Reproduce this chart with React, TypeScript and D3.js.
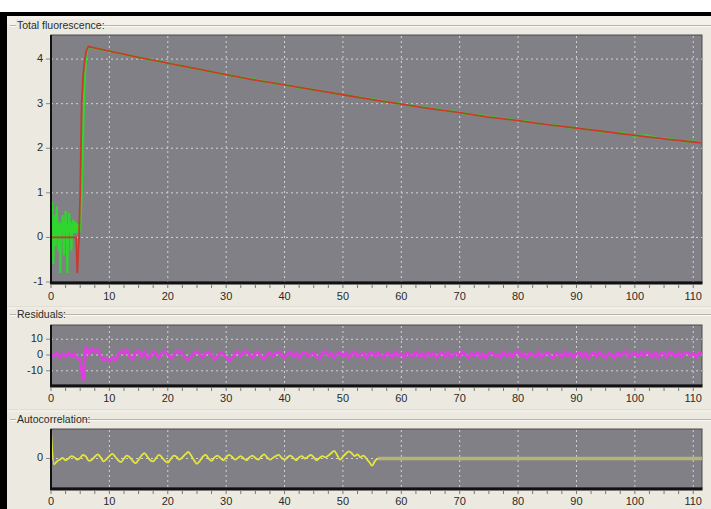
import React from "react";
import * as d3 from "d3";

const W = 711;
const H = 509;

// ---------- data ----------
const xTicks = [0, 10, 20, 30, 40, 50, 60, 70, 80, 90, 100, 110];
const fluoTicks = [-1, 0, 1, 2, 3, 4];
const residTicks = [-10, 0, 10];
const acfTicks = [0];

// measured signal (green): pre-flash noise, rise, decay
const greenX = [
  0, 0.1, 0.2, 0.3, 0.4, 0.5, 0.6, 0.7, 0.8, 0.9, 1.0, 1.1, 1.2, 1.3, 1.4, 1.5, 1.6, 1.7, 1.8, 1.9, 2.0, 2.1, 2.2, 2.3, 2.4,
  2.5, 2.6, 2.7, 2.8, 2.9, 3.0, 3.1, 3.2, 3.3, 3.4, 3.5, 3.6, 3.7, 3.8, 3.9, 4.0, 4.1, 4.2, 4.3, 4.4, 4.5, 4.6, 4.7, 4.8, 4.9,
  5.0, 5.2, 5.4, 5.6, 5.8, 6.0, 6.2, 6.4,
  8, 10, 12, 14, 16, 18, 20, 22, 24, 26, 28, 30, 32, 34, 36, 38, 40, 42, 44, 46, 48, 50, 52, 54, 56, 58, 60,
  62, 64, 66, 68, 70, 72, 74, 76, 78, 80, 82, 84, 86, 88, 90, 92, 94, 96, 98, 100, 102, 104, 106, 108, 110, 111.5,
];
const greenY = [
  0.3, 0.05, 0.8, 0.2, -0.6, 0.3, 0.1, 0.5, -0.2, 0.3, 0.7, 0.1, 0.25, -0.3, 0.2, 0.35, -0.8, 0.1, 0.3, 0.15, 0.5, 0.2, -0.4, 0.3, 0.1,
  0.6, 0.2, 0.3, -0.8, 0.25, 0.1, 0.55, 0.2, 0.35, 0.15, -0.3, 0.3, 0.2, 0.4, 0.1, 0.3, 0.2, 0.35, 0.1, 0.25, 0.15, 0.3, 0.2, 0.1, 0.15,
  0.2, 0.8, 1.8, 2.8, 3.6, 4.0, 4.2, 4.27,
  4.23, 4.18, 4.12, 4.07, 4.01, 3.96, 3.91, 3.86, 3.8, 3.75, 3.7, 3.65, 3.6, 3.56, 3.51, 3.46, 3.42, 3.37, 3.33, 3.29, 3.24, 3.2, 3.16, 3.12, 3.08, 3.03, 2.99,
  2.95, 2.92, 2.88, 2.84, 2.8, 2.76, 2.73, 2.69, 2.66, 2.62, 2.59, 2.55, 2.52, 2.48, 2.45, 2.42, 2.38, 2.35, 2.34, 2.27, 2.29, 2.22, 2.21, 2.16, 2.15, 2.12,
];

// fitted curve (red)
const fitX = [0, 4.3, 4.5, 4.8, 5.0, 5.25, 5.5, 5.8, 6.1, 6.4, 10, 15, 20, 25, 30, 35, 40, 45, 50, 55, 60, 65, 70, 75, 80, 85, 90, 95, 100, 105, 110, 111.5];
const fitY = [0, 0, -0.8, 0.0, 1.0, 3.0, 3.6, 4.0, 4.2, 4.28, 4.18, 4.04, 3.91, 3.78, 3.65, 3.53, 3.42, 3.31, 3.2, 3.09, 2.99, 2.89, 2.8, 2.7, 2.62, 2.53, 2.45, 2.37, 2.29, 2.21, 2.14, 2.12];

// residuals, sampled every 0.5 from 0 to 111.5
const residStep = 0.5;
const residuals = [
  0.8, -0.8, 1.2, -1.5, 0.5, -1.2, 1.5, -0.8, 0.6, -1.8,
  -3.0, -17.0, 5.5, 1.0, 4.0, 2.0, 3.5, -1.0, -3.2, -2.2,
  -4.0, -1.8, -3.6, 0.4, 2.6, 1.0, 3.2, -1.2, -2.6, 1.6,
  2.8, -0.8, 1.8, -2.0, -0.6, 2.2, 0.8, -1.8, 1.2, 2.6,
  0.4, -2.0, -0.4, 1.8, 2.8, 0.6, -1.6, -3.0, -0.8, 1.4,
  2.4, 0.2, -1.4, 1.2, 2.0, -0.6, -2.4, -1.0, 1.6, 0.4,
  -1.8, -3.6, -2.2, 0.8, 2.2, -0.4, 1.8, 2.6, 0.0, -1.6,
  1.0, 2.0, -1.2, -2.4, 0.4, 1.6, -0.8, 1.2, 2.2, -0.4,
  -1.8, 0.8, 2.0, -0.6, 1.4, -2.0, 0.6, 1.8, -1.0, 0.4,
  1.6, -1.4, -2.2, 1.0, 2.4, -0.2, 1.2, -1.6, 0.8, 1.8,
  -0.8, 1.6, -1.8, 0.6, 2.0, -1.2, 0.4, 1.8, -2.0, 1.0,
  1.4, -1.0, 1.8, -0.4, -1.6, 1.2, 0.6, -1.4, 2.2, -0.6,
  0.8, -1.8, 1.6, 0.2, -1.2, 2.0, -0.8, 1.0, -1.6, 1.6,
  -0.4, 1.2, -2.0, 0.6, 1.8, -1.0, 1.4, -1.6, 0.4, 1.6,
  -1.2, 2.2, 0.0, -1.6, 1.0, -0.6, 1.8, -1.4, 0.8, -1.8,
  1.2, 1.6, -0.8, 0.4, -1.6, 2.0, -0.4, 1.0, -1.2, 1.6,
  2.4, -0.6, 0.8, -1.8, 1.4, 0.2, -1.0, 1.8, -1.6, 0.6,
  1.6, -0.8, -2.0, 1.2, 0.4, -1.4, 2.2, -0.6, 1.0, -1.6,
  0.8, 1.8, -1.2, 1.6, -2.2, 0.6, 1.4, -1.0, 2.0, -0.4,
  -1.6, 1.0, 0.4, -1.8, 1.6, -0.8, 1.2, 2.4, -1.4, 0.2,
  1.8, -1.0, 1.6, -0.6, 2.2, 0.8, -1.2, 1.6, -1.8, 1.0,
  1.4, -1.6, 2.0, 0.4, -0.8, 1.6, -1.4, 1.2, 1.8, -0.6,
  1.0, -1.2, 1.6, 0.4,
];

// autocorrelation, sampled every 0.5 from 0 to 56, then flat
const acfStep = 0.5;
const acf = [
  1.0, -0.2, -0.1, -0.04, 0.02, -0.06, 0.0, 0.08, 0.04, -0.04,
  0.02, 0.12, 0.06, -0.08, -0.04, 0.06, 0.14, 0.04, -0.1, -0.02,
  0.08, 0.16, 0.06, -0.06, -0.12, 0.0, 0.1, 0.04, -0.08, -0.16,
  -0.04, 0.1, 0.18, 0.06, -0.06, -0.1, 0.02, 0.12, 0.04, -0.08,
  -0.14, -0.02, 0.1, 0.06, -0.04, 0.04, 0.14, 0.22, 0.1, -0.06,
  -0.18, -0.08, 0.06, 0.12, 0.0, -0.08, 0.04, 0.1, 0.02, -0.06,
  0.04, 0.12, 0.06, -0.04, 0.02, 0.08, 0.0, -0.06, 0.04, 0.1,
  0.02, -0.04, 0.06, 0.14, 0.04, -0.04, 0.02, 0.08, 0.12, 0.02,
  -0.04, 0.04, 0.1, 0.02, -0.06, 0.04, 0.08, 0.0, 0.06, 0.12,
  0.04, -0.06, 0.02, 0.08, 0.04, 0.1, 0.18, 0.26, 0.12, -0.04,
  0.06, 0.16, 0.24, 0.18, 0.08, 0.14, 0.04, 0.1, 0.0, -0.12,
  -0.24, -0.08, 0.0,
];
const acfTailX = [56, 111.5];
const acfTailY = [0, 0];

// ---------- layout ----------
const X0 = 51;
const X1 = 702;
const xMax = 111.5;
const FONT = "'Liberation Sans', Arial, sans-serif";
const BG = "#ECEAE0";
const PLOT = "#808086";
const GRID = "#d4d4d4";
const TXT = "#2a2a2a";

const x = d3.scaleLinear().domain([0, xMax]).range([X0, X1]);

type Panel = {
  top: number;
  bottom: number;
  domain: [number, number];
  yTicks: number[];
  hGrid: number[];
  title: string;
  titleY: number;
  titleW: number;
  sepY: number | null;
  labelY: number;
};

const panels: Panel[] = [
  { top: 35, bottom: 282, domain: [-1, 4.54], yTicks: fluoTicks, hGrid: [0, 1, 2, 3, 4], title: "Total fluorescence:", titleY: 25, titleW: 84, sepY: null, labelY: 297 },
  { top: 325, bottom: 385, domain: [-19, 19], yTicks: residTicks, hGrid: [-10, 0, 10], title: "Residuals:", titleY: 314, titleW: 46, sepY: 307, labelY: 399 },
  { top: 429, bottom: 488, domain: [-1, 1], yTicks: acfTicks, hGrid: [0], title: "Autocorrelation:", titleY: 419, titleW: 68, sepY: 410, labelY: 502 },
];

const minorTicks = d3.range(0, 111, 2.5);

function Frame({ p, children }: { p: Panel; children?: React.ReactNode }) {
  const y = d3.scaleLinear().domain(p.domain).range([p.bottom, p.top]);
  return (
    <g>
      {p.sepY !== null && (
        <g>
          <line x1={7} x2={W} y1={p.sepY} y2={p.sepY} stroke="#d6d3c6" strokeWidth={1} />
          <line x1={7} x2={W} y1={p.sepY + 1} y2={p.sepY + 1} stroke="#fbfaf6" strokeWidth={1} />
        </g>
      )}
      <line x1={10} x2={W} y1={p.titleY + 0.5} y2={p.titleY + 0.5} stroke="#b8b5a8" strokeWidth={1} />
      <line x1={10} x2={W} y1={p.titleY + 1.5} y2={p.titleY + 1.5} stroke="#fbfaf6" strokeWidth={1} />
      <rect x={16} y={p.titleY - 6} width={p.titleW} height={13} fill={BG} />
      <text x={17} y={p.titleY + 1} dominantBaseline="middle" fontFamily={FONT} fontSize={10.5} fill={TXT}>
        {p.title}
      </text>
      <rect x={X0} y={p.top} width={X1 - X0} height={p.bottom - p.top} fill={PLOT} stroke="#4a4a4e" strokeWidth={1} />
      {xTicks.filter((t) => t > 0).map((t) => (
        <line key={"v" + t} x1={x(t)} x2={x(t)} y1={p.top + 1} y2={p.bottom} stroke={GRID} strokeWidth={1} strokeDasharray="2,3" />
      ))}
      {p.hGrid.map((t) => (
        <line key={"h" + t} x1={X0} x2={X1} y1={y(t)} y2={y(t)} stroke={GRID} strokeWidth={1} strokeDasharray="2,3" />
      ))}
      <g>{children}</g>
      <line x1={X0} x2={X0} y1={p.top} y2={p.bottom + 1} stroke="#111" strokeWidth={2} />
      <line x1={X0 - 1} x2={X1 + 0.5} y1={p.bottom + 1} y2={p.bottom + 1} stroke="#111" strokeWidth={3} />
      {minorTicks.map((t) => (
        <line key={"m" + t} x1={x(t)} x2={x(t)} y1={p.bottom + 2} y2={p.bottom + 6} stroke="#777" strokeWidth={1} />
      ))}
      {xTicks.map((t) => (
        <text key={"xl" + t} x={x(t)} y={p.labelY} textAnchor="middle" dominantBaseline="middle" fontFamily={FONT} fontSize={11} fill={TXT}>
          {t}
        </text>
      ))}
      {p.yTicks.map((t) => (
        <g key={"yl" + t}>
          <line x1={X0 - 5} x2={X0 - 1} y1={y(t)} y2={y(t)} stroke="#888" strokeWidth={1} />
          <text x={43} y={y(t)} textAnchor="end" dominantBaseline="middle" fontFamily={FONT} fontSize={11} fill={TXT}>
            {t}
          </text>
        </g>
      ))}
    </g>
  );
}

export default function App() {
  const [p1, p2, p3] = panels;
  const y1 = d3.scaleLinear().domain(p1.domain).range([p1.bottom, p1.top]);
  const y2 = d3.scaleLinear().domain(p2.domain).range([p2.bottom, p2.top]);
  const y3 = d3.scaleLinear().domain(p3.domain).range([p3.bottom, p3.top]);

  const line1 = d3.line<[number, number]>().x((d) => x(d[0])).y((d) => y1(d[1]));
  const line2 = d3.line<[number, number]>().x((d) => x(d[0])).y((d) => y2(d[1]));
  const line3 = d3.line<[number, number]>().x((d) => x(d[0])).y((d) => y3(d[1]));
  const line3s = d3
    .line<[number, number]>()
    .x((d) => x(d[0]))
    .y((d) => y3(d[1]))
    .curve(d3.curveMonotoneX);

  const greenPts = greenX.map((v, i) => [v, greenY[i]] as [number, number]);
  const fitPts = fitX.map((v, i) => [v, fitY[i]] as [number, number]);
  const residPts = residuals.map((v, i) => [i * residStep, v] as [number, number]);
  const acfPts = acf.map((v, i) => [i * acfStep, v] as [number, number]);
  const tailPts = acfTailX.map((v, i) => [v, acfTailY[i]] as [number, number]);

  return (
    <svg width={W} height={H} style={{ position: "absolute", left: 0, top: 0, display: "block" }}>
      <rect x={0} y={0} width={W} height={H} fill="#ffffff" />
      <rect x={0} y={16} width={W} height={H - 16} fill={BG} />
      <rect x={7} y={16} width={W - 7} height={9} fill="#f3f1ea" />
      <rect x={0} y={12} width={W} height={4} fill="#000" />
      <rect x={0} y={12} width={7} height={H - 12} fill="#000" />

      <Frame p={p1}>
        <path d={line1(greenPts) || ""} fill="none" stroke="#2fd62f" strokeWidth={2.2} />
        <path d={line1(fitPts) || ""} fill="none" stroke="#c83a2e" strokeWidth={1.8} />
      </Frame>
      <Frame p={p2}>
        <path d={line2(residPts) || ""} fill="none" stroke="#e03ee0" strokeWidth={2.8} />
      </Frame>
      <Frame p={p3}>
        <path d={line3(tailPts) || ""} fill="none" stroke="#b5b37a" strokeWidth={3.5} />
        <path d={line3s(acfPts) || ""} fill="none" stroke="#e6e63a" strokeWidth={1.8} />
      </Frame>
    </svg>
  );
}
